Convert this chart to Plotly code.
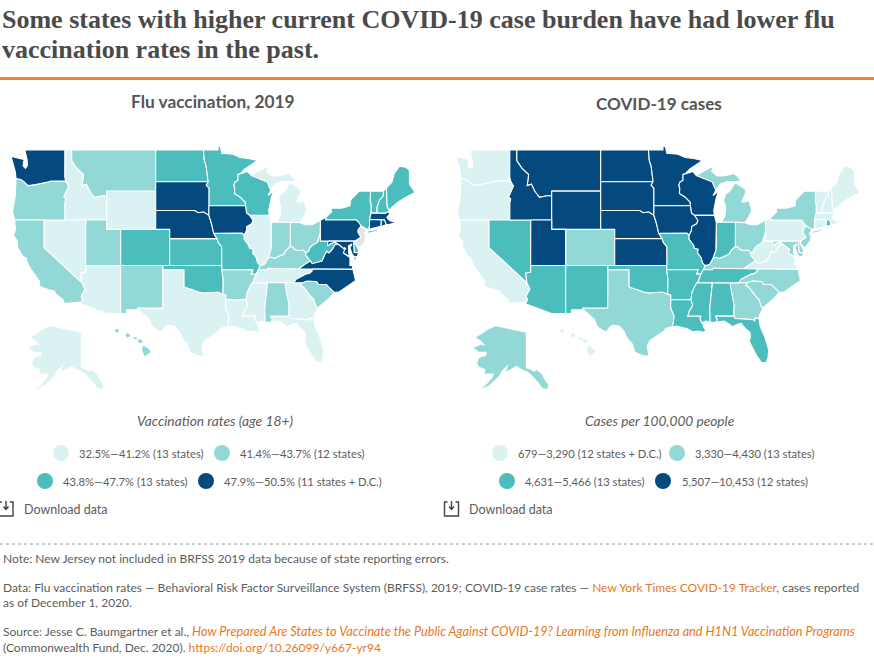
import math
import plotly.graph_objects as go

# ---------- data: tier membership per map ----------
FLU_T1 = ["ID","WY","NV","AZ","TX","LA","MS","TN","GA","FL","IL","MI","AK"]
FLU_T2 = ["MT","OR","CA","UT","NM","AR","AL","IN","OH","KY","SC","HI"]
FLU_T3 = ["ND","MN","WI","CO","KS","MO","OK","NY","VT","NH","ME","WV","DE"]
FLU_T4 = ["WA","SD","NE","IA","PA","MA","CT","RI","MD","VA","NC","DC"]
FLU_NA = ["NJ"]
COV_T1 = ["WA","OR","CA","HI","PA","WV","VA","ME","NH","VT","MA","CT","DC"]
COV_T2 = ["CO","TX","AK","MI","OH","KY","NC","SC","GA","NY","NJ","MD","DE"]
COV_T3 = ["NV","AZ","NM","OK","MO","AR","LA","MS","AL","TN","FL","IN","RI"]
COV_T4 = ["MT","ID","WY","ND","SD","NE","KS","MN","IA","WI","IL","UT"]
FLU_LEGEND = ["32.5%—41.2% (13 states)","41.4%—43.7% (12 states)","43.8%—47.7% (13 states)","47.9%—50.5% (11 states + D.C.)"]
COV_LEGEND = ["679—3,290 (12 states + D.C.)","3,330—4,430 (13 states)","4,631—5,466 (13 states)","5,507—10,453 (12 states)"]
TIER_COLORS = ["#dbf2f2","#92d8d6","#4cbdbd","#044a7e"]
NA_COLOR = "#e4e4e4"

# ---------- base map geometry (lon, lat) ----------
def R(s): return s[::-1]
id_wa=[(-117.03,49),(-117.04,46.4),(-116.92,46.0)]
or_wa=[(-116.92,46.0),(-118.98,46.0),(-119.3,45.93),(-121.2,45.65),(-122.3,45.55),(-122.8,45.9),(-123.3,46.15),(-124.0,46.25)]
or_id=[(-116.92,46.0),(-116.5,45.5),(-117.2,44.4),(-116.9,44.2),(-117.03,43.8),(-117.03,42)]
id_mt=[(-116.05,49),(-116.05,48.0),(-115.3,47.25),(-114.35,46.65),(-114.55,45.55),(-113.95,45.7),(-113.45,44.95),(-112.8,44.37),(-111.5,44.55),(-111.05,44.48)]
mn_wi=[(-92.01,46.71),(-92.29,46.66),(-92.29,46.08),(-92.75,45.87),(-92.89,45.57),(-92.75,45.3),(-92.80,44.75),(-92.0,44.4),(-91.25,43.85),(-91.22,43.50)]
ia_wi=[(-91.22,43.50),(-91.07,42.75),(-90.64,42.51)]
ia_il=[(-90.64,42.51),(-90.15,41.95),(-90.34,41.6),(-91.05,41.3),(-91.1,40.82),(-91.42,40.38)]
mo_il=[(-91.42,40.38),(-91.42,39.93),(-90.75,39.25),(-90.67,38.93),(-90.12,38.83),(-90.2,38.4),(-89.7,37.9),(-89.5,37.3),(-89.13,36.98)]
ky_mo=[(-89.13,36.98),(-89.42,36.5)]
mo_tn=[(-89.42,36.5),(-89.7,36.0)]
ar_tn=[(-89.7,36.0),(-89.98,35.5),(-90.08,35.13),(-90.3,35.0)]
ar_ms=[(-90.3,35.0),(-90.6,34.6),(-91.0,33.9),(-91.15,33.0)]
la_ms=[(-91.15,33.0),(-90.9,32.3),(-91.4,31.6),(-91.6,31.0),(-89.73,31.0),(-89.85,30.65),(-89.6,30.18)]
il_ky=[(-89.13,36.98),(-88.5,37.1),(-88.03,37.8)]
in_ky=[(-88.03,37.8),(-87.6,37.95),(-87.1,37.8),(-86.5,38.0),(-85.75,38.27),(-85.4,38.73),(-84.82,39.1)]
ky_oh=[(-84.82,39.1),(-84.5,39.1),(-84.2,38.8),(-83.6,38.65),(-83.0,38.73),(-82.6,38.42)]
oh_wv=[(-82.6,38.42),(-82.2,38.6),(-82.0,39.0),(-81.75,39.2),(-81.0,39.55),(-80.85,39.7),(-80.63,40.4),(-80.52,40.64)]
ky_wv=[(-82.6,38.42),(-82.6,38.15),(-81.97,37.54)]
ky_va=[(-81.97,37.54),(-82.7,37.1),(-83.68,36.6)]
ky_tn=[(-83.68,36.6),(-86.5,36.65),(-88.07,36.68),(-88.07,36.5),(-89.42,36.5)]
tn_va=[(-83.68,36.6),(-81.68,36.59)]
nc_va=[(-81.68,36.59),(-75.87,36.55)]
nc_tn=[(-81.68,36.59),(-81.7,36.35),(-82.05,36.1),(-82.6,36.0),(-83.1,35.77),(-84.0,35.4),(-84.32,34.99)]
nc_sc=[(-83.11,35.0),(-82.4,35.2),(-81.05,35.15),(-80.8,34.82),(-79.67,34.8),(-78.55,33.86)]
ga_sc=[(-83.11,35.0),(-83.35,34.7),(-82.9,34.48),(-82.0,33.5),(-81.45,33.0),(-81.1,32.1),(-80.87,32.03)]
fl_ga=[(-84.86,30.7),(-82.2,30.57),(-82.05,30.36),(-82.0,30.75),(-81.45,30.71)]
al_ga=[(-85.6,35.0),(-85.18,32.87),(-85.0,32.3),(-85.05,31.55),(-85.0,31.0)]
al_fl=[(-85.0,31.0),(-87.6,31.0),(-87.6,30.85),(-87.4,30.65),(-87.52,30.28)]
al_ms=[(-88.2,35.0),(-88.1,34.9),(-88.47,31.9),(-88.4,30.25)]
la_tx=[(-93.84,29.7),(-93.7,30.1),(-93.55,31.0),(-94.04,32.0),(-94.04,33.02)]
ne_ia=[(-96.45,42.49),(-96.1,41.7),(-95.92,41.2),(-95.77,40.58)]
mi_wi=[(-90.4,46.55),(-89.1,46.14),(-88.1,45.9),(-87.8,45.35),(-87.6,45.1)]
va_wv=[(-77.8,39.3),(-78.35,39.4),(-78.87,38.76),(-79.3,38.4),(-79.65,38.6),(-80.3,37.5),(-81.2,37.25),(-81.7,37.2),(-81.97,37.54)]
ok_tx=[(-94.48,33.64),(-95.2,33.9),(-96.0,33.85),(-96.6,33.83),(-97.2,33.8),(-97.9,33.9),(-98.5,34.12),(-99.2,34.3),(-99.7,34.4),(-100.0,34.56),(-100.0,36.5),(-103.04,36.5)]
tx_nm=[(-103.04,36.5),(-103.06,32.0),(-106.62,32.0),(-106.53,31.78)]
ca_az=[(-114.6,35.0),(-114.15,34.27),(-114.7,33.4),(-114.5,33.0),(-114.72,32.72)]
nv_az=[(-114.05,37),(-114.05,36.2),(-114.75,36.1),(-114.6,35.0)]

STATE_RINGS={
"WA":[[(-122.75,49)]+id_wa+or_wa+[(-124.1,46.9),(-124.7,48.38),(-123.2,48.15),(-122.85,48.1),(-123.0,47.5),(-122.65,47.25),(-122.4,47.5),(-122.4,48.0),(-122.6,48.6)]],
"OR":[R(or_wa)+or_id+[(-120,42),(-124.2,42),(-124.5,42.85),(-124.1,44.6)]],
"ID":[[(-117.03,49)]+id_mt+[(-111.05,42),(-117.03,42)]+R(or_id)+R(id_wa)],
"MT":[id_mt+[(-111.05,45),(-104.05,45),(-104.05,49)]],
"WY":[[(-111.05,45),(-104.05,45),(-104.05,41),(-111.05,41)]],
"CO":[[(-109.05,41),(-102.05,41),(-102.05,37),(-109.05,37)]],
"UT":[[(-114.04,42),(-111.05,42),(-111.05,41),(-109.05,41),(-109.05,37),(-114.05,37)]],
"NV":[[(-120,42),(-114.04,42)]+nv_az+[(-120,39)]],
"CA":[[(-124.2,42),(-120,42),(-120,39)]+ca_az+[(-117.12,32.53),(-117.3,33.0),(-118.4,33.75),(-118.5,34.03),(-119.2,34.15),(-120.6,34.55),(-120.65,35.15),(-121.9,36.6),(-122.5,37.5),(-122.5,37.8),(-123.0,38.0),(-123.75,39.0),(-123.85,39.8),(-124.35,40.3),(-124.1,41.0)]],
"AZ":[nv_az+ca_az[1:]+[(-114.8,32.5),(-111.07,31.33),(-109.05,31.33),(-109.05,37)]],
"NM":[[(-109.05,37),(-103.0,37)]+tx_nm+[(-108.2,31.78),(-108.2,31.33),(-109.05,31.33)]],
"TX":[ok_tx+tx_nm[1:]+[(-106.0,31.4),(-105.0,30.65),(-104.5,29.65),(-103.3,29.0),(-102.7,29.7),(-102.3,29.88),(-101.4,29.77),(-100.7,29.1),(-100.3,28.3),(-99.5,27.5),(-99.2,26.5),(-98.2,26.05),(-97.15,25.96),(-97.4,27.3),(-97.0,28.0),(-96.0,28.6),(-95.0,29.15),(-94.7,29.5)]+la_tx+[(-94.04,33.55)]],
"OK":[[(-103.0,37),(-94.6,37),(-94.62,36.5),(-94.43,35.39)]+ok_tx],
"KS":[[(-102.05,40),(-95.31,40),(-95.1,39.55),(-94.62,39.1),(-94.6,37),(-102.05,37)]],
"NE":[[(-104.05,43),(-98.5,43),(-98,42.77),(-97.2,42.85)]+ne_ia+[(-95.31,40),(-102.05,40),(-102.05,41),(-104.05,41)]],
"SD":[[(-104.05,45.94),(-96.56,45.94),(-96.85,45.6),(-96.45,45.3),(-96.45,43.5),(-96.45,42.49),(-97.2,42.85),(-98,42.77),(-98.5,43),(-104.05,43)]],
"ND":[[(-104.05,49),(-97.23,49),(-97.1,48),(-96.85,47.5),(-96.56,45.94),(-104.05,45.94)]],
"MN":[[(-97.23,49),(-95.15,49),(-95.15,49.38),(-94.8,49.3),(-94.6,48.7),(-93,48.6),(-92,48.3),(-90.8,48.2),(-89.5,48),(-91.3,47.2)]+mn_wi+[(-96.45,43.5),(-96.45,45.3),(-96.85,45.6),(-96.56,45.94),(-96.85,47.5),(-97.1,48)]],
"IA":[[(-96.45,43.5)]+ia_wi+ia_il+[(-91.73,40.61)]+R(ne_ia)],
"MO":[[(-95.77,40.58),(-91.73,40.61)]+mo_il+ky_mo+mo_tn+[(-90.37,36),(-90.15,36.5),(-94.62,36.5),(-94.6,37),(-94.62,39.1),(-95.1,39.55),(-95.31,40)]],
"AR":[[(-94.62,36.5),(-90.15,36.5),(-90.37,36.0)]+ar_tn+ar_ms+[(-94.04,33.02),(-94.04,33.55),(-94.48,33.64),(-94.43,35.39)]],
"LA":[la_ms+[(-89.4,30.05),(-89.4,29.75),(-89.0,29.2),(-89.4,29.0),(-90.1,29.15),(-90.9,29.05),(-91.8,29.5),(-92.3,29.55),(-93.2,29.77)]+la_tx],
"WI":[[(-92.01,46.71),(-90.9,46.95)]+mi_wi+[(-88.0,44.55),(-87.4,44.9),(-87.05,45.25),(-87.55,44.3),(-87.9,43.0),(-87.8,42.49)]+R(ia_wi)+R(mn_wi)],
"IL":[[(-90.64,42.51),(-87.8,42.49),(-87.53,41.72),(-87.53,39.35),(-87.6,38.7)]+R(il_ky)+R(mo_il)+R(ia_il)],
"IN":[[(-87.53,41.72),(-87.2,41.76),(-84.8,41.76)]+R(in_ky)+[(-87.6,38.7),(-87.53,39.35)]],
"OH":[[(-84.8,41.76),(-83.45,41.73),(-82.7,41.5),(-81.7,41.5),(-80.52,41.98)]+R(oh_wv)+R(ky_oh)],
"MI":[[(-86.82,41.76),(-86.3,42.4),(-86.2,43.5),(-86.5,44.0),(-86.2,44.7),(-85.6,45.0),(-85.0,45.7),(-84.7,45.78),(-83.4,45.2),(-83.3,44.85),(-83.9,43.9),(-83.4,43.9),(-82.9,44.05),(-82.45,43.0),(-82.9,42.35),(-83.15,42.05),(-83.45,41.73),(-84.8,41.76)],
      mi_wi+[(-87.0,45.7),(-86.0,45.95),(-84.75,45.95),(-84.0,46.0),(-84.5,46.47),(-85.0,46.75),(-86.5,46.5),(-87.4,46.5),(-88.2,46.95),(-87.9,47.47),(-88.6,47.25),(-89.6,46.83)]],
"KY":[il_ky+in_ky+ky_oh+ky_wv+ky_va+ky_tn],
"TN":[R(ky_tn)+tn_va+nc_tn+[(-90.3,35.0)]+R(ar_tn)+R(mo_tn)],
"NC":[nc_va+[(-75.5,35.25),(-76.5,34.65),(-77.9,33.9)]+R(nc_sc)+[(-84.32,34.99)]+R(nc_tn)],
"SC":[nc_sc+[(-79.2,33.2),(-80.0,32.6)]+R(ga_sc)],
"GA":[[(-85.6,35.0),(-84.32,34.99)]+ga_sc+[(-81.3,31.2)]+R(fl_ga)+[(-85.0,31.0)]+R(al_ga)],
"FL":[[(-85.0,31.0)]+fl_ga+[(-81.25,29.7),(-80.55,28.3),(-80.05,26.8),(-80.15,25.75),(-80.4,25.2),(-81.1,25.15),(-81.8,26.1),(-82.4,27.2),(-82.8,27.8),(-82.65,28.6),(-82.75,29.0),(-83.4,29.5),(-84.0,30.1),(-84.3,30.05),(-85.3,29.68),(-85.5,29.9),(-86.4,30.38)]+R(al_fl)],
"AL":[al_ga+al_fl+[(-88.0,30.25)]+R(al_ms)],
"MS":[[(-90.3,35.0)]+al_ms+[(-89.0,30.38)]+R(la_ms)+R(ar_ms)],
"WV":[oh_wv+[(-80.52,39.72),(-79.48,39.72),(-79.48,39.2),(-79,39.45),(-78.4,39.62)]+va_wv+R(ky_wv)],
"VA":[ky_va+tn_va+nc_va+[(-76,37),(-76.3,37),(-76.3,37.9),(-77,38.3),(-77.25,38.4),(-77.05,38.8),(-77.5,39.1)]+va_wv,
      [(-75.25,38.03),(-75.65,37.95),(-75.95,37.15)]],
"MD":[[(-79.48,39.72),(-75.78,39.72),(-75.7,38.46),(-75.05,38.45),(-75.25,38.03),(-75.65,37.95),(-76.0,38.3),(-76.3,39.0),(-76.0,39.4),(-76.5,39.2),(-76.5,38.5),(-76.35,38.05),(-77,38.3),(-77.25,38.4),(-77.05,38.8),(-77.5,39.1),(-77.8,39.3),(-78.4,39.62),(-79,39.45),(-79.48,39.2)]],
"DC":[[(-77.12,38.93),(-77.04,39.0),(-76.91,38.89),(-77.04,38.79)]],
"DE":[[(-75.78,39.72),(-75.4,39.8),(-75.55,39.5),(-75.1,38.8),(-75.05,38.45),(-75.7,38.46)]],
"PA":[[(-80.52,41.98),(-79.76,42.27),(-79.76,42),(-75.35,42),(-75.05,41.75),(-74.7,41.36),(-75.1,41),(-75.15,40.7),(-74.72,40.15),(-75.4,39.8),(-75.78,39.72),(-80.52,39.72),(-80.52,40.64)]],
"NJ":[[(-74.7,41.36),(-73.9,41.0),(-74.25,40.5),(-74.0,40.4),(-74.1,39.75),(-74.9,38.95),(-75.55,39.5),(-75.4,39.8),(-74.72,40.15),(-75.15,40.7),(-75.1,41)]],
"NY":[[(-79.76,42.27),(-78.9,42.9),(-79.05,43.27),(-77.5,43.25),(-76.3,43.5),(-76.2,44.1),(-75,44.97),(-74.7,45),(-73.35,45),(-73.4,44),(-73.25,43.55),(-73.27,42.75),(-73.5,42.05),(-73.5,41.3),(-73.66,41),(-73.9,41),(-74.7,41.36),(-75.05,41.75),(-75.35,42),(-79.76,42)],
      [(-73.8,40.8),(-72,41.05),(-72.5,40.8),(-73.9,40.55)]],
"CT":[[(-73.5,42.05),(-71.8,42.02),(-71.86,41.32),(-73.66,41),(-73.5,41.3)]],
"RI":[[(-71.8,42.02),(-71.38,42.02),(-71.12,41.5),(-71.86,41.32)]],
"MA":[[(-73.5,42.05),(-73.27,42.75),(-72.46,42.73),(-71.3,42.7),(-70.82,42.87),(-70.6,42.65),(-71.03,42.3),(-70.65,41.95),(-70.0,41.8),(-70.0,42.05),(-70.0,41.65),(-70.65,41.55),(-71.12,41.5),(-71.38,42.02),(-71.8,42.02)]],
"VT":[[(-73.35,45),(-71.5,45.01),(-71.55,44.5),(-72.05,44.1),(-72.4,43.4),(-72.46,42.73),(-73.27,42.75),(-73.25,43.55),(-73.4,44)]],
"NH":[[(-71.5,45.01),(-71.08,45.3),(-70.98,43.4),(-70.7,43.07),(-70.82,42.87),(-71.3,42.7),(-72.46,42.73),(-72.4,43.4),(-72.05,44.1),(-71.55,44.5)]],
"ME":[[(-71.08,45.3),(-70.3,45.9),(-70,46.7),(-69.23,47.46),(-68.3,47.36),(-67.8,47.07),(-67.8,45.7),(-67,44.85),(-68.5,44.3),(-69.5,43.85),(-70.7,43.07),(-70.98,43.4)]],
}
ALASKA=[[(-141,69.65),(-141,60.3),(-139,60.05),(-137,59.4),(-135.5,59.8),(-133,58.8),(-131,56.8),(-129.6,55.9),(-129.9,54.7),(-132.6,54.95),(-134.6,56.4),(-136.5,57.5),(-138.5,58.6),(-140.5,59.4),(-143,59.85),(-146,60.8),(-148.5,60),(-151.5,59.3),(-150,61.2),(-153,59.7),(-154.5,58.3),(-157,57),(-160,55.6),(-164.5,54.7),(-161,56.1),(-158,57.9),(-157.5,58.8),(-160,58.8),(-162,58.7),(-162,60),(-165.2,60.6),(-166,61.6),(-165,63),(-161.5,63.5),(-161,64.5),(-165,64.5),(-168,65.6),(-164,66.5),(-162,66.2),(-163.5,67.2),(-166.8,68.4),(-163,69.5),(-161,70.3),(-156.5,71.35),(-152,70.8),(-148,70.4)]]
HAWAII=[[(-159.85,22.05),(-159.5,22.3),(-159.2,22.05),(-159.5,21.8)],
        [(-158.35,21.55),(-158.0,21.8),(-157.6,21.4),(-158.1,21.2)],
        [(-157.35,21.25),(-156.7,21.25),(-156.9,20.95)],
        [(-156.75,21.0),(-156.2,21.0),(-155.9,20.7),(-156.4,20.5)],
        [(-155.9,20.25),(-155.1,19.85),(-154.85,19.5),(-155.65,18.95),(-156.05,19.7)]]

# ---------- layout constants (pixels of the 874x665 page) ----------
W,H=874,665
PX_PER_DEG=7.0
LON_AT_0=-124.72-11/PX_PER_DEG
def merc(lat):
    return math.degrees(math.log(math.tan(math.pi/4+math.radians(lat)/2)))
MERC_TOP=merc(49)+(150-130)/PX_PER_DEG   # map value at pixel y=130
def px2x(px): return LON_AT_0+px/PX_PER_DEG
def px2y(py): return MERC_TOP-(py-130)/PX_PER_DEG

def main_xy(rings):
    xs,ys=[],[]
    for r in rings:
        for lo,la in r+[r[0]]:
            xs.append(lo); ys.append(merc(la))
        xs.append(None); ys.append(None)
    return xs,ys
def inset_xy(rings,x0,kx,lon0,y0,ky,lat0):
    xs,ys=[],[]
    for r in rings:
        for lo,la in r+[r[0]]:
            xs.append(px2x(x0+kx*(lo-lon0))); ys.append(px2y(y0+ky*(lat0-la)))
        xs.append(None); ys.append(None)
    return xs,ys
def geometry(st):
    if st=="AK": return inset_xy(ALASKA,81,1.96,-141,326,3.8,71.35)
    if st=="HI": return inset_xy(HAWAII,146,7.25,-155.5,351,8.3,19.6)
    return main_xy(STATE_RINGS[st])

fig=go.Figure()
def add_map(tiers,xa,ya,extra=None):
    groups=list(zip(tiers,TIER_COLORS))
    if extra: groups.append(extra)
    for members,color in groups:
        for st in members:
            x,y=geometry(st)
            lw=0 if st=="HI" else (0.4 if st=="AK" else 1.1)
            fig.add_trace(go.Scatter(x=x,y=y,mode="lines",fill="toself",fillcolor=color,
                line=dict(color="white",width=lw),hoverinfo="skip",showlegend=False,xaxis=xa,yaxis=ya))
add_map([FLU_T1,FLU_T2,FLU_T3,FLU_T4],"x","y",(FLU_NA,NA_COLOR))
add_map([COV_T1,COV_T2,COV_T3,COV_T4],"x2","y2")

def dots(xs,ys):
    fig.add_trace(go.Scatter(x=xs,y=ys,mode="markers",marker=dict(size=16,color=TIER_COLORS,line=dict(width=0)),
        hoverinfo="skip",showlegend=False,xaxis="x3",yaxis="y3"))
ROW1,ROW2=453,481
dots([61,222,45,206],[ROW1,ROW1,ROW2,ROW2])
dots([500,677,507,663],[ROW1,ROW1,ROW2,ROW2])

BODY="Lato"; GREY="#5c5c5c"; ORANGE="#e87722"
ann=[]
def text(x,y,s,size=12,color=GREY,anchor="left",family=BODY):
    ann.append(dict(x=x,y=y,xref="x3",yref="y3",text=s,showarrow=False,xanchor=anchor,yanchor="middle",
                    align=anchor,font=dict(family=family,size=size,color=color),borderpad=0,borderwidth=0))
T="Liberation Serif"
text(2,19,"<b>Some states with higher current COVID-19 case burden have had lower flu</b>",26,"#4a4a4a",family=T)
text(2,49,"<b>vaccination rates in the past.</b>",26,"#4a4a4a",family=T)
text(212.5,101,"<b>Flu vaccination, 2019</b>",17.3,"#555555",anchor="center")
text(658.5,103,"<b>COVID-19 cases</b>",17.1,"#555555",anchor="center")
text(215,420,"<i>Vaccination rates (age 18+)</i>",13.8,anchor="center")
text(660,420,"<i>Cases per 100,000 people</i>",13.7,anchor="center")
for x,y,s in zip([79,240,63,224],[ROW1,ROW1,ROW2,ROW2],FLU_LEGEND): text(x,y,s,11.2)
for x,y,s in zip([518,695,525,682],[ROW1,ROW1,ROW2,ROW2],COV_LEGEND): text(x,y,s,11.2)
text(24,509,"Download data",12.5)
text(469,509,"Download data",12.5)
FS=12
text(3,558,"Note: New Jersey not included in BRFSS 2019 data because of state reporting errors.",FS)
text(3,587,f'Data: Flu vaccination rates — Behavioral Risk Factor Surveillance System (BRFSS), 2019; COVID-19 case rates — <span style="color:{ORANGE}">New York Times COVID-19 Tracker</span>, cases reported',FS)
text(3,602,"as of December 1, 2020.",FS)
text(3,631,f'Source: Jesse C. Baumgartner et al., <span style="color:{ORANGE};font-size:12.7px"><i>How Prepared Are States to Vaccinate the Public Against COVID-19? Learning from Influenza and H1N1 Vaccination Programs</i></span>',FS)
text(3,647,f'(Commonwealth Fund, Dec. 2020). <span style="color:{ORANGE}">https://doi.org/10.26099/y667-yr94</span>',FS)

shapes=[dict(type="line",xref="x3",yref="y3",x0=0,x1=W,y0=78.5,y1=78.5,line=dict(color="#f0812f",width=3)),
        dict(type="line",xref="x3",yref="y3",x0=0,x1=W,y0=544,y1=544,line=dict(color="#9a9a9a",width=1,dash="dot"))]
def icon(x):
    p=f"M {x+3} 502 L {x} 502 L {x} 516 L {x+14} 516 L {x+14} 502 L {x+11} 502"
    a=f"M {x+7} 501 L {x+7} 509 M {x+4.5} 506.5 L {x+7} 509.5 L {x+9.5} 506.5"
    for d in (p,a):
        shapes.append(dict(type="path",xref="x3",yref="y3",path=d,line=dict(color="#444444",width=1.4)))
icon(-1); icon(444.5)

hidden=dict(visible=False,fixedrange=True,showgrid=False,zeroline=False)
fig.update_layout(width=W,height=H,autosize=False,margin=dict(l=0,r=0,t=0,b=0),
    paper_bgcolor="white",plot_bgcolor="rgba(0,0,0,0)",showlegend=False,annotations=ann,shapes=shapes,
    xaxis=dict(hidden,domain=[0,437/W],range=[px2x(0),px2x(437)]),
    yaxis=dict(hidden,domain=[1-400/H,1-130/H],range=[px2y(400),px2y(130)]),
    xaxis2=dict(hidden,domain=[437/W,1],range=[px2x(-8),px2x(429)]),
    yaxis2=dict(hidden,domain=[1-400/H,1-130/H],range=[px2y(400),px2y(130)]),
    xaxis3=dict(hidden,domain=[0,1],range=[0,W]),
    yaxis3=dict(hidden,domain=[0,1],range=[H,0]))
fig.write_html("out.html",config=dict(displayModeBar=False),
               post_script="document.body.style.margin='0';document.body.style.overflow='hidden';")
